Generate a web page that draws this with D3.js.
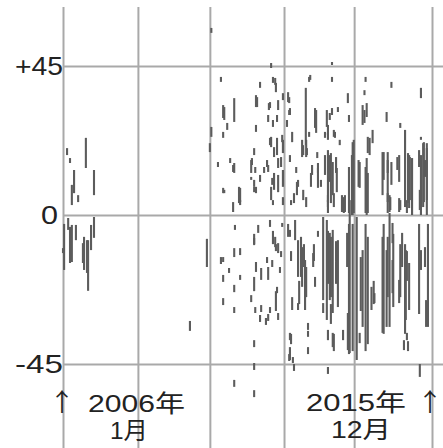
<!DOCTYPE html>
<html><head><meta charset="utf-8">
<script src="https://cdn.jsdelivr.net/npm/d3@7"></script>
<style>body{margin:0;background:#fff}svg{display:block}</style>
</head><body>
<svg id="c" width="443" height="448"></svg>
<script>
// y tick values and labels
const yTicks = [45, 0, -45];
const yTickLabels = ["+45", "0", "-45"];
// vertical grid lines (decimal years)
const xGrid = [2006, 2008.03, 2009.98, 2011.99, 2013.89, 2016];
// bottom labels
const startLabelTop = "2006年", startLabelBottom = "1月";
const endLabelTop = "2015年", endLabelBottom = "12月";
const arrow = "↑";
// segments: [decimal year, upper value, lower value]
const segments = [
[2006.62,23.3,14.2],[2006.11,20.2,18.1],[2006.19,17.2,15.7],[2006.30,13.6,6.6],[2006.24,9.1,3.0],[2006.41,6.0,3.9],[2006.84,13.6,6.0],
[2006.14,-0.9,-4.5],[2006.19,-3.6,-14.5],[2006.24,-3.0,-14.2],[2006.35,-3.0,-7.6],[2006.54,-8.5,-14.5],[2006.68,-7.6,-22.9],[2006.65,-7.6,-17.5],[2006.76,-3.0,-10.6],[2006.84,-0.6,-6.9],[2006.03,-2.7,-16.6],[2006.57,-6.6,-16.6],[2006.0,-10,-11.5],
[2009.90,-7.2,-15.7],[2009.44,-32.0,-35.0],[2010.02,56.5,55.0],[2010.02,26.6,23.6],[2009.98,21.7,19.0],
[2010.28,41.7,40.2],[2010.34,33.2,29.3],[2010.45,27.8,25.7],[2010.34,25.1,23.3],[2010.64,35.3,28.1],[2011.34,40.2,38.4],[2011.23,36.2,32.6],[2011.23,27.2,25.1],
[2010.20,16.0,14.5],[2010.53,17.2,15.7],[2010.61,15.1,13.0],[2011.18,20.2,18.1],[2011.12,17.2,15.1],[2011.21,14.5,12.7],[2011.10,11.5,10.6],[2010.34,8.2,6.6],
[2010.80,8.2,3.9],[2010.61,3.9,0.9],[2011.18,8.5,6.9],[2011.34,12.1,10.0],[2011.53,16.6,14.5],[2011.56,30.2,28.1],
[2011.64,45.9,44.4],[2011.69,41.7,39.9],[2011.77,39.9,37.1],[2011.26,35.6,32.6],[2010.37,32.6,28.7],[2011.58,33.8,31.7],[2011.83,34.7,31.7],[2011.96,36.8,34.7],
[2012.13,35.6,33.8],[2012.13,31.7,30.2],[2011.69,28.7,26.6],[2012.67,41.7,40.2],[2012.86,31.7,24.8],[2012.67,25.1,23.6],[2013.29,46.2,45.3],[2013.29,41.7,40.2],
[2013.15,31.7,26.6],[2013.23,30.8,28.7],[2013.45,32.6,31.1],[2013.18,24.8,22.7],[2013.34,25.7,23.6],[2013.50,22.7,21.1],[2013.72,36.8,33.8],[2013.75,30.2,28.1],
[2014.20,41.7,40.2],[2014.17,37.7,36.2],[2014.23,33.8,29.6],[2014.17,31.7,27.8],[2014.39,25.7,21.7],[2014.26,23.6,18.7],[2014.90,40.2,38.4],[2014.77,31.1,28.1],
[2015.14,27.8,26.3],[2015.70,38.4,35.3],[2015.70,23.6,22.7],[2015.27,25.7,2.4],[2015.35,18.7,3.6],[2015.40,17.5,4.5],[2015.06,17.5,13.6],[2014.69,19.0,10.6],
[2014.80,16.6,12.7],[2015.76,21.7,2.4],[2015.86,21.7,4.5],[2015.65,19.6,14.5],[2013.88,22.7,0.6],[2013.75,14.5,0.6],[2014.20,14.5,0.6],[2014.26,12.7,0.6],
[2014.01,16.6,8.5],[2013.61,5.4,0.6],[2012.48,22.7,17.5],[2012.59,22.7,17.5],[2012.91,15.7,12.7],[2012.72,12.7,8.5],[2012.99,10.6,8.5],[2013.18,19.6,2.4],
[2013.26,18.7,3.6],[2013.40,17.5,12.7],[2013.34,6.6,2.4],[2011.10,16.6,12.7],[2011.45,14.5,12.7],[2011.64,23.6,20.5],[2011.72,20.5,17.5],[2011.96,22.7,18.7],
[2011.91,17.5,14.5],[2011.96,13.6,8.5],[2011.72,12.7,7.6],[2011.64,8.5,4.5],[2011.69,4.5,3.0],[2011.96,5.4,3.0],[2012.18,4.5,3.0],[2012.26,6.6,3.6],
[2012.32,14.5,12.7],[2012.37,10.6,8.5],[2011.23,8.5,6.6],[2011.18,10.6,8.5],[2010.64,15.7,12.7],[2010.77,8.5,3.6],[2010.37,7.6,6.6],[2012.51,7.6,4.5],
[2012.59,5.4,2.4],[2013.18,4.5,0.6],[2014.80,6.6,0.6],[2014.87,5.4,1.5],[2015.14,4.5,1.5],[2015.32,4.5,0.6],[2015.67,7.6,1.5],[2015.81,16.6,11.5],
[2011.75,41.4,39.3],[2011.61,34.1,32.3],[2011.80,30.2,28.1],[2012.10,37.1,34.1],[2012.15,32.3,30.2],[2012.07,28.7,26.6],[2011.61,23.3,21.1],[2011.80,23.3,18.1],
[2011.94,24.2,22.0],[2012.21,25.1,22.0],[2011.83,17.2,14.2],[2011.56,15.1,13.0],[2011.67,11.2,9.1],[2011.83,12.1,6.9],[2012.15,18.1,16.0],[2012.34,10.0,6.0],
[2012.58,38.4,21.1],[2012.51,21.1,18.1],[2012.61,20.2,18.1],[2012.70,42.3,40.8],[2012.83,32.3,26.3],[2012.89,19.0,17.2],[2012.75,15.1,12.1],[2012.91,14.2,8.2],
[2013.18,27.2,24.2],[2013.10,25.1,23.3],[2013.29,32.3,30.2],[2013.37,25.1,23.3],[2013.10,18.1,12.1],[2013.23,18.1,10.0],[2013.31,16.0,6.0],[2013.42,14.2,6.9],
[2013.18,6.0,3.9],[2013.83,18.1,0],[2013.64,6.0,0.9],[2013.56,6.0,0.9],
[2014.12,33.2,27.2],[2014.31,23.3,18.1],[2013.85,22.0,0],[2014.23,17.2,0],[2014.04,16.0,8.2],[2014.66,19.0,6.0],[2014.80,19.0,3.9],[2014.90,16.0,9.1],
[2015.11,18.1,10.0],[2015.38,18.1,2.1],[2015.46,17.2,0],[2015.70,18.1,0],[2015.78,22.0,3.9],[2015.86,20.2,0],[2014.85,6.0,0.9],[2015.11,5.1,0.9],
[2010.80,4.5,3.0],[2010.66,-3.0,-4.5],[2010.64,-10.0,-12.7],[2010.80,-10.0,-12.1],[2010.34,-12.7,-14.2],[2010.50,-16.0,-17.5],[2010.34,-18.1,-20.2],[2010.80,-18.1,-19.6],
[2010.64,-21.1,-23.3],[2010.34,-25.1,-27.2],[2010.64,-27.8,-29.6],[2011.29,-3.0,-5.4],[2011.18,-6.9,-9.1],[2011.23,-14.2,-17.2],[2011.37,-16.0,-19.6],[2011.10,-24.2,-26.3],
[2011.21,-27.8,-29.6],[2011.37,-27.2,-29.3],[2011.34,-30.2,-32.3],[2011.50,-31.1,-33.2],[2011.18,-37.8,-39.9],[2011.18,-44.7,-46.8],[2010.64,-49.8,-51.9],[2011.18,-52.9,-55.0],
[2011.53,-12.7,-14.5],[2011.56,-15.7,-19.6],
[2011.18,-5.7,-8.8],[2011.69,-4.8,-8.8],[2011.77,-8.8,-10.9],[2011.91,-10.9,-12.7],[2012.10,-2.7,-6.6],[2012.18,-10.9,-13.9],[2012.45,-6.6,-18.7],[2012.40,-19.9,-26.9],
[2012.53,-8.8,-15.7],[2012.59,-15.7,-24.8],[2012.80,-8.8,-13.9],[2012.91,-4.8,-6.6],[2013.18,-4.8,-20.8],[2013.26,-6.6,-24.8],[2013.40,-7.9,-13.9],[2013.26,-26.9,-32.9],
[2013.34,-35.9,-41.1],[2013.40,-13.9,-20.8],[2013.75,-2.7,-42.0],[2013.85,-2.7,-41.1],[2014.20,-2.7,-41.1],[2014.26,-6.6,-39.0],[2014.07,-12.7,-29.0],[2014.42,-19.9,-26.9],
[2014.69,-2.7,-35.9],[2014.80,-6.6,-24.8],[2014.95,-5.7,-27.8],[2015.14,-8.8,-24.8],[2015.27,-8.8,-35.9],[2015.32,-10.9,-19.9],[2015.35,-38.1,-41.1],[2015.65,-2.7,-29.9],
[2015.89,-2.7,-33.8],[2015.81,-9.7,-15.7],[2015.67,-45.0,-48.9],[2011.18,-18.7,-23.0],[2011.56,-29.9,-32.0],[2011.77,-23.0,-29.0],[2012.18,-35.9,-39.0],[2012.13,-42.0,-44.1],
[2012.26,-45.0,-47.1],[2012.64,-35.0,-36.8],[2012.64,-39.9,-42.0],[2013.18,-45.9,-48.0],[2010.28,-12.7,-14.8],
[2011.61,-1.5,-3.6],[2011.94,-2.4,-3.6],[2011.75,-6.6,-9.7],[2011.83,-8.5,-11.5],[2011.67,-13.6,-15.7],[2011.88,-15.7,-17.5],[2011.80,-21.7,-23.6],[2011.61,-27.8,-29.6],
[2011.83,-29.6,-31.7],[2012.15,-4.5,-6.6],[2012.29,-1.5,-7.6],[2012.37,-7.6,-18.7],[2012.48,-9.7,-21.7],[2012.56,-13.6,-28.7],[2012.21,-24.8,-28.7],[2012.37,-26.6,-28.7],
[2012.15,-35.6,-37.8],[2012.23,-42.9,-44.7],[2012.64,-32.6,-34.7],[2012.15,-39.9,-43.8],[2012.78,-11.5,-15.7],[2012.83,-18.7,-21.7],[2013.05,-0.6,-25.7],[2013.15,-1.5,-31.7],
[2013.23,-5.4,-25.7],[2013.31,-4.5,-29.6],[2013.45,-7.6,-27.8],[2013.05,-26.6,-29.6],[2013.18,-34.7,-37.8],[2013.31,-35.6,-39.9],[2013.59,-34.7,-37.8],[2013.72,-29.6,-40.8],
[2013.77,4.5,-41.7],[2013.70,-5.4,-15.7],
[2013.96,-0.6,-43.8],[2014.12,-10.6,-33.8],[2014.36,-21.7,-28.7],[2014.44,-23.6,-26.6],[2014.04,-35.6,-38.7],[2014.66,-6.6,-35.6],[2014.77,-10.6,-33.8],[2014.85,0.6,-33.8],
[2014.93,-2.4,-8.5],[2014.93,-13.6,-23.6],[2015.11,-19.6,-26.6],[2015.19,-5.4,-15.7],[2015.29,-10.6,-31.7],[2015.38,-14.5,-28.7],[2015.24,-37.8,-40.8],[2015.32,-35.6,-37.8],
[2015.70,-10.6,-16.6],[2015.84,-25.7,-33.8]
];

const W = 443, H = 448;
const svg = d3.select("#c");
const x = d3.scaleLinear().domain([2006, 2016]).range([63, 432]);
const y = d3.scaleLinear().domain([-45, 45]).range([364, 66]);
const gridColor = "#a9a9a9";

// grid lines via axes
const gx = svg.append("g").attr("transform", `translate(0,${H})`)
  .call(d3.axisTop(x).tickValues(xGrid).tickSize(H - 7).tickFormat(""));
gx.select(".domain").remove();
gx.selectAll("line").attr("stroke", gridColor).attr("stroke-width", 2);

const gy = svg.append("g").attr("transform", `translate(${W},0)`)
  .call(d3.axisLeft(y).tickValues(yTicks).tickSize(W - 63).tickFormat(""));
gy.select(".domain").remove();
gy.selectAll("line").attr("stroke", gridColor).attr("stroke-width", 2);

// segments
svg.append("g").selectAll("line").data(segments).join("line")
  .attr("x1", d => x(d[0])).attr("x2", d => x(d[0]))
  .attr("y1", d => y(d[1])).attr("y2", d => y(d[2]))
  .attr("stroke", "#5c5c5c").attr("stroke-width", 2.1);

const font = "'Liberation Sans', 'Noto Sans CJK JP', sans-serif";
const arrowFont = "'Noto Sans CJK JP', sans-serif";
const txtColor = "#222";

// y labels
svg.append("g").selectAll("text").data(yTicks).join("text")
  .attr("x", d => d === 0 ? 58 : 63)
  .attr("y", d => y(d))
  .attr("dy", "0.36em")
  .attr("text-anchor", "end")
  .attr("font-family", font).attr("font-size", 25).attr("fill", txtColor)
  .attr("textLength", d => d === 0 ? 17 : 48).attr("lengthAdjust", "spacingAndGlyphs")
  .text((d, i) => yTickLabels[i]);

function lbl(t, cx, cy, len, fam, size) {
  const e = svg.append("text").attr("x", cx).attr("y", cy)
    .attr("text-anchor", "middle").attr("dy", "0.36em")
    .attr("font-family", fam || font).attr("font-size", size || 24).attr("fill", txtColor).text(t);
  if (len) e.attr("textLength", len).attr("lengthAdjust", "spacingAndGlyphs");
  return e;
}
lbl(arrow, x(2006) - 1, 402, null, arrowFont, 25);
lbl(startLabelTop, 136.5, 403, 97);
lbl(startLabelBottom, 129, 430, 38);
lbl(endLabelTop, 356, 402, 100);
lbl(endLabelBottom, 361, 429, 60);
lbl(arrow, x(2016) - 2, 402, null, arrowFont, 25);
</script>
</body></html>
